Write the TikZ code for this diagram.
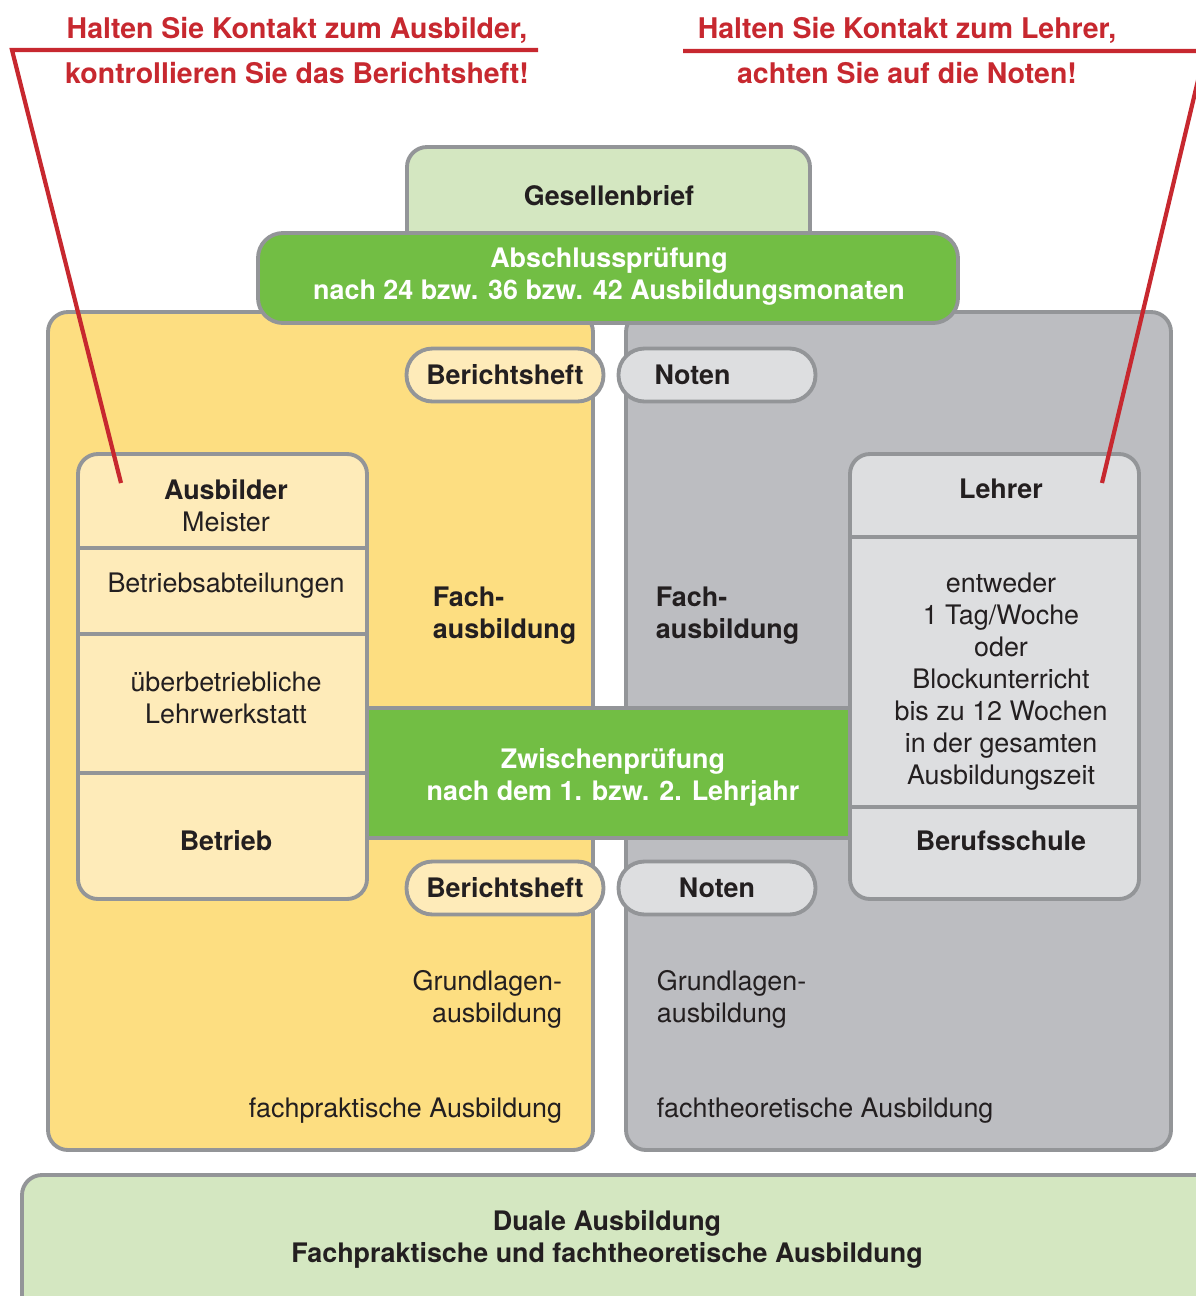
\documentclass[tikz,border=0pt]{standalone}
\usepackage{fontspec}
\setmainfont{TeX Gyre Heros}
\usepackage{tikz}

\definecolor{panelyellow}{HTML}{FDDE81}
\definecolor{lightyellow}{HTML}{FEEBB9}
\definecolor{panelgray}{HTML}{BCBDC1}
\definecolor{lightgray}{HTML}{DDDEE0}
\definecolor{framegray}{HTML}{939598}
\definecolor{examgreen}{HTML}{72BE44}
\definecolor{palegreen}{HTML}{D4E7C1}
\definecolor{warnred}{HTML}{C7282F}
\definecolor{textdark}{HTML}{231F20}

\begin{document}
\begin{tikzpicture}[x=0.02cm,y=-0.02cm,line width=2.2pt,font=\fontsize{15.3}{18.2}\selectfont]
            \tikzstyle{frame}=[draw=framegray,rounded corners=0.4cm]
            \tikzstyle{pill}=[draw=framegray,rounded corners=0.52cm,minimum width=3.94cm,minimum height=1.06cm,inner sep=0pt,text=textdark,font=\fontsize{15.3}{18.2}\selectfont\bfseries]
            \tikzstyle{label}=[align=center,text=textdark,inner sep=0pt]
            \tikzstyle{heavy}=[font=\fontsize{15.3}{18.2}\selectfont\bfseries]
            \tikzstyle{warn}=[text=warnred,inner sep=0pt,font=\fontsize{16.2}{19}\selectfont\bfseries]
            \tikzstyle{redline}=[draw=warnred,line width=2.4pt]

            \useasboundingbox (0,0) rectangle (1196,1296);

            % panels
            \draw[frame,fill=panelyellow] (48,312) rectangle (593,1150);
            \draw[frame,fill=panelgray] (626,312) rectangle (1171,1150);
            \draw[frame,fill=palegreen] (22,1175) rectangle (1220,1330);
            \draw[frame,fill=palegreen] (407,147) rectangle (810,260);
            \draw[draw=framegray,rounded corners=0.5cm,fill=examgreen] (258,233) rectangle (958,323);

            \node[label,heavy] (gesellen) at (609,196) {Gesellenbrief};
            \node[label,heavy,text=white] (abschluss) at (609,277)
                {Abschlusspr\"ufung\\nach 24 bzw. 36 bzw. 42 Ausbildungsmonaten};

            % pills
            \foreach \name/\y in {top/375, bot/888}
                \node[pill,fill=lightyellow] (B-\name) at (505,\y) {Berichtsheft};
            \node[pill,fill=lightgray,text width=2.5cm,align=left,inner xsep=0.72cm] (N-top) at (717,375) {Noten};
            \node[pill,fill=lightgray] (N-bot) at (717,888) {Noten};

            % zwischenpruefung
            \draw[draw=framegray,fill=examgreen] (367,708) rectangle (850,838);
            \node[label,heavy,text=white] (zwischen) at (613,777)
                {Zwischenpr\"ufung\\nach dem 1. bzw. 2. Lehrjahr};

            % ausbilder box
            \draw[frame,fill=lightyellow] (78,454) rectangle (367,899);
            \foreach \y in {548, 634, 773}
                \draw[framegray] (78,\y) -- (367,\y);
            \node[label] (ausbilder) at (226,506) {\textbf{Ausbilder}\\Meister};
            \node[label] (abteilung) at (226,586) {Betriebsabteilungen};
            \node[label] (werkstatt) at (226,698) {\"uberbetriebliche\\Lehrwerkstatt};
            \node[label,heavy] (betrieb) at (226,841) {Betrieb};

            % lehrer box
            \draw[frame,fill=lightgray] (850,454) rectangle (1139,899);
            \foreach \y in {537, 807}
                \draw[framegray] (850,\y) -- (1139,\y);
            \node[label,heavy] (lehrer) at (1001,489) {Lehrer};
            \node[label] (unterricht) at (1001,682)
                {entweder\\1 Tag/Woche\\oder\\Blockunterricht\\bis zu 12 Wochen\\in der gesamten\\Ausbildungszeit};
            \node[label,heavy] (schule) at (1001,841) {Berufsschule};

            % panel texts
            \node[label,heavy,align=left,anchor=west] (fach-l) at (431,616) {Fach-\\ausbildung};
            \node[label,heavy,align=left,anchor=west] (fach-r) at (654,616) {Fach-\\ausbildung};
            \node[label,align=right,anchor=east] (grund-l) at (564,999) {Grundlagen-\\ausbildung};
            \node[label,align=left,anchor=west] (grund-r) at (655,999) {Grundlagen-\\ausbildung};
            \node[label,anchor=east] (praxis) at (564,1111) {fachpraktische Ausbildung};
            \node[label,anchor=west] (theorie) at (655,1111) {fachtheoretische Ausbildung};
            \node[label,heavy] (dual) at (607,1239)
                {Duale Ausbildung\\Fachpraktische und fachtheoretische Ausbildung};

            % red hints
            \node[warn] (hint-a1) at (297,30) {Halten Sie Kontakt zum Ausbilder,};
            \node[warn] (hint-a2) at (297,73) {kontrollieren Sie das Berichtsheft!};
            \node[warn] (hint-l1) at (907,30) {Halten Sie Kontakt zum Lehrer,};
            \node[warn] (hint-l2) at (907,73) {achten Sie auf die Noten!};

            \coordinate (A-rule) at (538,50);
            \coordinate (A-bend) at (12,50);
            \coordinate (A-end) at (121,483);
            \coordinate (L-rule) at (683,51);
            \coordinate (L-bend) at (1205,51);
            \coordinate (L-end) at (1102,483);
            \draw[redline] (A-rule) -- (A-bend) -- (A-end);
            \draw[redline] (L-rule) -- (L-bend) -- (L-end);
        \end{tikzpicture}
\end{document}
